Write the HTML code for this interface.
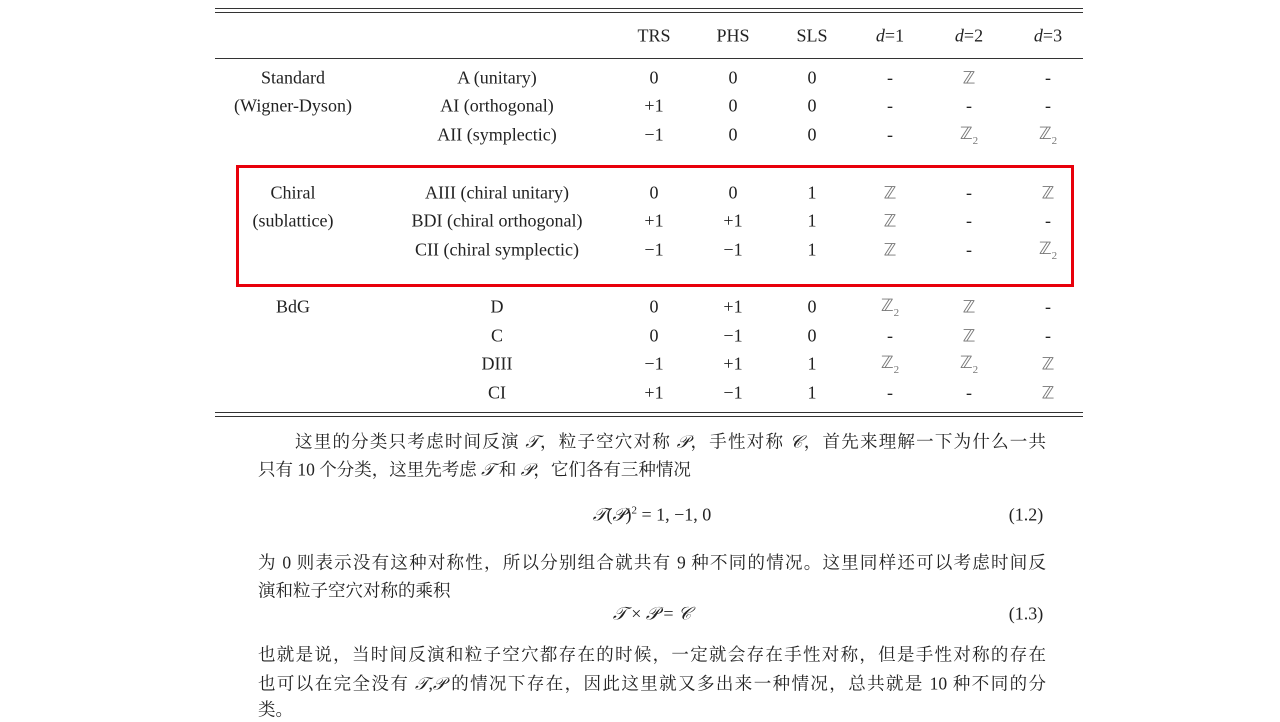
<!DOCTYPE html>
<html><head><meta charset="utf-8"><style>
body{margin:0;width:1280px;height:720px;background:#fff;position:relative;overflow:hidden;font-family:"Liberation Serif","Noto Serif CJK SC",serif;color:#222}
.c{position:absolute;transform:translate(-50%,-50%);font-size:18px;white-space:nowrap}
.r{position:absolute;left:215px;width:868px;height:1px;background:#333}
.p{position:absolute;left:258px;width:788px;font-size:17.5px;white-space:nowrap;text-align:justify;text-align-last:justify;transform:translateY(-50%)}
.m{font-style:italic;font-family:"Liberation Serif",serif}
.z{font-family:"DejaVu Sans",sans-serif;color:#777;font-size:17px}
</style></head><body>
<div class="r" style="top:8px"></div>
<div class="r" style="top:12px"></div>
<div class="r" style="top:58px"></div>
<div class="r" style="top:412px"></div>
<div class="r" style="top:416px"></div>
<div style="position:absolute;left:236px;top:165px;width:832px;height:116px;border:3px solid #e8000b"></div>
<div id="t"></div>
<div class="p" style="top:441px;left:295px;width:751px">这里的分类只考虑时间反演 <span class="m">𝒯</span>，粒子空穴对称 <span class="m">𝒫</span>，手性对称 <span class="m">𝒞</span>，首先来理解一下为什么一共</div>
<div class="p" style="top:469px;text-align-last:left">只有 10 个分类，这里先考虑 <span class="m">𝒯</span> 和 <span class="m">𝒫</span>，它们各有三种情况</div>
<div class="c" style="left:652px;top:515px"><span class="m">𝒯</span>(<span class="m">𝒫</span>)<sup style="font-size:11px">2</sup> = 1, −1, 0</div>
<div class="c" style="left:1026px;top:515px">(1.2)</div>
<div class="p" style="top:562px">为 0 则表示没有这种对称性，所以分别组合就共有 9 种不同的情况。这里同样还可以考虑时间反</div>
<div class="p" style="top:590px;text-align-last:left">演和粒子空穴对称的乘积</div>
<div class="c" style="left:652px;top:614px"><span class="m">𝒯</span> × <span class="m">𝒫</span> = <span class="m">𝒞</span></div>
<div class="c" style="left:1026px;top:614px">(1.3)</div>
<div class="p" style="top:654px">也就是说，当时间反演和粒子空穴都存在的时候，一定就会存在手性对称，但是手性对称的存在</div>
<div class="p" style="top:683px">也可以在完全没有 <span class="m">𝒯</span>,<span class="m">𝒫</span> 的情况下存在，因此这里就又多出来一种情况，总共就是 10 种不同的分</div>
<div class="p" style="top:709px;text-align-last:left">类。</div>
<script>
const headers=["TRS","PHS","SLS","<i>d</i>=1","<i>d</i>=2","<i>d</i>=3"];
const groups=[["Standard",78],["(Wigner-Dyson)",106],["Chiral",193],["(sublattice)",221],["BdG",307]];
const classes=["A (unitary)","AI (orthogonal)","AII (symplectic)","AIII (chiral unitary)","BDI (chiral orthogonal)","CII (chiral symplectic)","D","C","DIII","CI"];
const rowY=[78,106,135,193,221,250,307,336,364,393];
const vals=[["0","0","0","-","Z","-"],["+1","0","0","-","-","-"],["−1","0","0","-","Z2","Z2"],["0","0","1","Z","-","Z"],["+1","+1","1","Z","-","-"],["−1","−1","1","Z","-","Z2"],["0","+1","0","Z2","Z","-"],["0","−1","0","-","Z","-"],["−1","+1","1","Z2","Z2","Z"],["+1","−1","1","-","-","Z"]];
const colX=[654,733,812,890,969,1048];
const t=document.getElementById('t');
function add(html,x,y,name){const d=document.createElement('div');d.className='c';d.style.left=x+'px';d.style.top=y+'px';d.innerHTML=html;


t.appendChild(d);}
headers.forEach((h,i)=>add(h,colX[i],36,'column-header'));
groups.forEach(g=>add(g[0],293,g[1],'group-label'));
classes.forEach((c,i)=>add(c,497,rowY[i],'class-name'));
vals.forEach((row,i)=>row.forEach((v,j)=>{let h=v;if(v==='Z')h='<span class="z">ℤ</span>';else if(v==='Z2')h='<span class="z">ℤ</span><sub style="font-size:11px;color:#777">2</sub>';add(h,colX[j],rowY[i],'table-cell');}));
</script>
</body></html>
